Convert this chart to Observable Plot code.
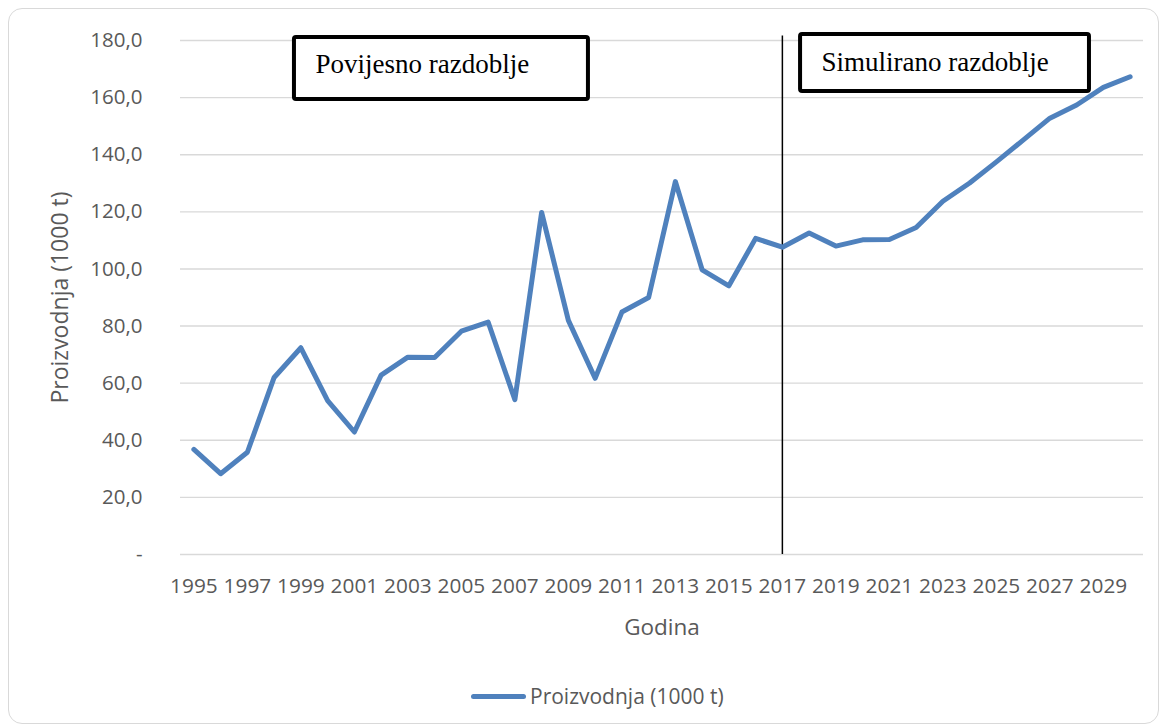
<!DOCTYPE html>
<html>
<head>
<meta charset="utf-8">
<script src="https://cdn.jsdelivr.net/npm/d3@7"></script>
<script src="https://cdn.jsdelivr.net/npm/@observablehq/plot@0.6"></script>
<style>
  html, body { margin: 0; padding: 0; background: #fff; }
  #wrap { position: relative; width: 1168px; height: 728px; overflow: hidden; font-family: "Open Sans", sans-serif; }
  #frame { position: absolute; left: 8px; top: 8px; width: 1151px; height: 716px; border: 1px solid #d9d9d9; border-radius: 14px; box-sizing: border-box; }
  #chart { position: absolute; left: 0; top: 0; }
  #legend { position: absolute; left: 471px; top: 683px; height: 26px; display: flex; align-items: center; }
  #legend .sw { width: 55px; height: 5px; border-radius: 3px; background: #4f81bd; margin-right: 4px; }
  #legend .lb { font-size: 21px; color: #595959; line-height: 26px; }
</style>
</head>
<body>
<div id="wrap">
  <div id="frame"></div>
  <div id="chart"></div>
  <div id="legend"><div class="sw"></div><div class="lb"></div></div>
</div>
<script>
const years = d3.range(1995, 2031);
const production = [
  36.8, 28.3, 35.8, 62.0, 72.4, 53.9, 42.9, 62.8, 69.1, 69.0,
  78.2, 81.4, 54.2, 119.8, 82.0, 61.7, 84.9, 90.0, 130.6, 99.7,
  94.1, 110.7, 107.6, 112.6, 108.0, 110.2, 110.3, 114.5, 123.7, 130.1,
  137.5, 145.1, 152.8, 157.4, 163.6, 167.3
];
const xTickYears = d3.range(1995, 2030, 2);
const yTickValues = [0, 20, 40, 60, 80, 100, 120, 140, 160, 180];
const seriesName = "Proizvodnja (1000 t)";
const xTitle = "Godina";
const yTitle = "Proizvodnja (1000 t)";
const splitYear = 2017;
const periodLabels = ["Povijesno razdoblje", "Simulirano razdoblje"];
const periodFrom = [1998.76, 2017.68];
const periodTo = [2009.75, 2028.48];
const periodTop = [181.05, 182.1];
const periodBottom = [159.34, 162.1];
const periodMid = [171.6, 172.2];

const data = years.map((year, i) => ({year, value: production[i]}));
const periods = periodLabels.map((label, i) => ({
  label, x1: periodFrom[i], x2: periodTo[i], y1: periodBottom[i], y2: periodTop[i], ym: periodMid[i]
}));

const fmt = d => d === 0 ? "-" : d.toFixed(1).replace(".", ",");

const chart = Plot.plot({
  width: 1168,
  height: 660,
  marginLeft: 180,
  marginRight: 25,
  marginTop: 40,
  marginBottom: 106,
  style: { fontFamily: "'Open Sans', sans-serif", fontSize: "20.5px", color: "#595959", background: "transparent", overflow: "visible" },
  x: { domain: [1994.5, 2030.5] },
  y: { domain: [0, 180] },
  marks: [
    Plot.gridY(yTickValues, { stroke: "#d9d9d9", strokeOpacity: 1, strokeWidth: 1.4 }),
    Plot.axisX(xTickYears, { tickSize: 0, tickPadding: 24, tickFormat: d => String(d), label: null, fill: "#595959", fontSize: 20.8 }),
    Plot.axisY(yTickValues, { tickSize: 0, tickPadding: 38, tickFormat: fmt, label: null, fill: "#595959", fontSize: 20.5 }),
    Plot.text([xTitle], { frameAnchor: "bottom", dy: 73, fill: "#595959", fontSize: 22.5, textAnchor: "middle", lineAnchor: "middle" }),
    Plot.text([yTitle], { frameAnchor: "left", dx: -120, rotate: -90, fill: "#595959", fontSize: 23, textAnchor: "middle", lineAnchor: "middle" }),
    Plot.ruleX([splitYear], { y1: 0, y2: 181.6, stroke: "#000", strokeWidth: 1.5 }),
    Plot.line(data, { x: "year", y: "value", stroke: "#4f81bd", strokeWidth: 5, strokeLinejoin: "round", strokeLinecap: "round" }),
    Plot.rect(periods, { x1: "x1", x2: "x2", y1: "y1", y2: "y2", fill: "#fff", stroke: "#000", strokeWidth: 4, rx: 2 }),
    Plot.text(periods, { x: "x1", y: "ym", text: "label", dx: 21, textAnchor: "start", lineAnchor: "middle", fontFamily: "'Liberation Serif', 'Times New Roman', serif", fontSize: 27, fill: "#000" })
  ]
});
document.getElementById("chart").appendChild(chart);
document.querySelector("#legend .lb").textContent = seriesName;
</script>
</body>
</html>
